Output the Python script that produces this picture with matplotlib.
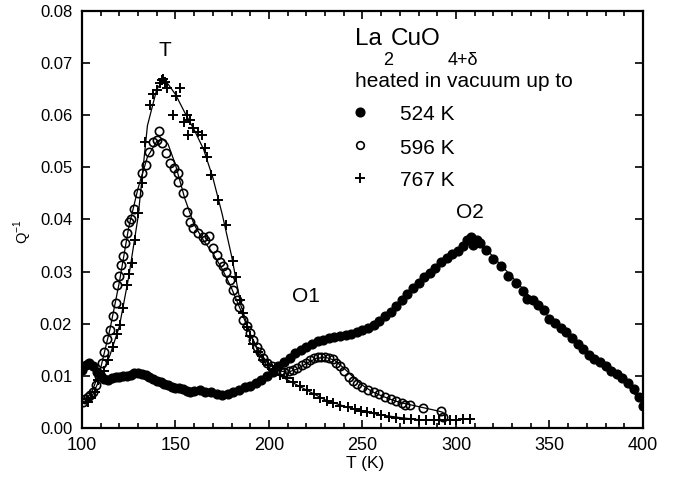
import numpy as np
import matplotlib
matplotlib.use('Agg')
import matplotlib.pyplot as plt
from matplotlib.ticker import MultipleLocator, FormatStrFormatter

plt.rcParams['font.family'] = ['Liberation Sans', 'DejaVu Sans']

# 524 K (filled circles)
t_524 = [100, 102, 104, 106, 108, 110, 112, 114, 116, 118, 120, 122, 124, 126, 128, 130, 132, 134, 136, 138,
         140, 142, 144, 146, 148, 150, 152, 154, 156, 158, 160, 163, 166, 169, 172, 175, 178, 181, 184, 187,
         190, 193, 196, 199, 202, 205, 208, 211, 214, 217, 220, 223, 226, 229, 232, 235, 238, 241, 244, 247,
         250, 253, 256, 259, 262, 265, 268, 271, 274, 277, 280, 283, 286, 289, 292, 295, 298, 301, 304, 306,
         308, 309, 311, 313, 316, 320, 324, 328, 332, 336, 338, 341, 344, 347, 350, 353, 356, 359, 362, 365,
         368, 371, 374, 377, 380, 383, 386, 389, 392, 395, 398, 400]
q_524 = [0.0111, 0.0120, 0.0124, 0.0118, 0.0108, 0.0100, 0.0094, 0.0093, 0.0096, 0.0097, 0.0098, 0.0099,
         0.0100, 0.0102, 0.0105, 0.0106, 0.0104, 0.0101, 0.0098, 0.0094, 0.0090, 0.0088, 0.0085, 0.0082,
         0.0078, 0.0077, 0.0076, 0.0074, 0.0071, 0.0070, 0.0071, 0.0072, 0.0070, 0.0069, 0.0066, 0.0064,
         0.0066, 0.0070, 0.0073, 0.0078, 0.0081, 0.0086, 0.0092, 0.0100, 0.0108, 0.0118, 0.0127, 0.0135,
         0.0143, 0.0150, 0.0156, 0.0162, 0.0166, 0.0169, 0.0172, 0.0174, 0.0176, 0.0178, 0.0181, 0.0184,
         0.0188, 0.0192, 0.0197, 0.0205, 0.0214, 0.0222, 0.0234, 0.0246, 0.0258, 0.0268, 0.0278, 0.0289,
         0.0298, 0.0306, 0.0318, 0.0326, 0.0334, 0.0340, 0.0350, 0.0360, 0.0366, 0.0352, 0.0360, 0.0354,
         0.0342, 0.0325, 0.0310, 0.0292, 0.0278, 0.0262, 0.0248, 0.0246, 0.0236, 0.0226, 0.0210, 0.0201,
         0.0192, 0.0184, 0.0172, 0.0162, 0.0152, 0.0140, 0.0132, 0.0126, 0.0118, 0.0110, 0.0104, 0.0096,
         0.0086, 0.0074, 0.0060, 0.0042]

# 596 K (open circles)
t_596 = [100.5, 101.5, 103, 104.5, 106, 107.5, 109, 110.5, 112, 113.5, 115, 116.5, 118, 118.5, 120, 121, 122,
         123, 124, 125, 126, 128, 130, 132, 134, 136, 138, 140, 141, 143, 145, 147, 149, 151.5, 151.5, 154,
         156, 158, 159.5, 162, 164.5, 166, 168, 170, 172, 174, 175.6, 177, 179, 181, 182.7, 184, 186.3, 188,
         189.8, 191.5, 193.4, 195, 197, 199, 201.4, 204, 206, 208, 210.5, 213, 215, 217.5, 220, 222, 224,
         226, 228, 230, 232, 234, 236, 238, 240, 243, 245, 247, 250, 253, 256, 259, 262, 265, 268, 271, 273,
         275.5, 282.5, 292, 293]
q_596 = [0.0050, 0.0056, 0.0060, 0.0064, 0.0070, 0.0082, 0.0100, 0.0125, 0.0146, 0.0170, 0.0188, 0.0215,
         0.0240, 0.0274, 0.0292, 0.0312, 0.0330, 0.0354, 0.0375, 0.0396, 0.0400, 0.0420, 0.0450, 0.0490,
         0.0505, 0.0530, 0.0549, 0.0553, 0.0570, 0.0547, 0.0528, 0.0508, 0.0498, 0.0489, 0.0472, 0.0450,
         0.0415, 0.0395, 0.0383, 0.0375, 0.0367, 0.0360, 0.0368, 0.0345, 0.0332, 0.0318, 0.0310, 0.0300,
         0.0284, 0.0265, 0.0246, 0.0232, 0.0207, 0.0195, 0.0182, 0.0168, 0.0156, 0.0145, 0.0134, 0.0125,
         0.0118, 0.0112, 0.0109, 0.0108, 0.0109, 0.0111, 0.0115, 0.0120, 0.0124, 0.0130, 0.0134, 0.0136,
         0.0137, 0.0137, 0.0135, 0.0132, 0.0125, 0.0118, 0.0110, 0.0098, 0.0090, 0.0085, 0.0078, 0.0073,
         0.0069, 0.0065, 0.0060, 0.0055, 0.0052, 0.0048, 0.0045, 0.0044, 0.0038, 0.0032, 0.0022]

# 767 K (plus)
t_767 = [103, 105, 107, 108.7, 110.5, 112, 114, 116.7, 118.5, 120.3, 122, 123.9, 125, 126.6, 128.3, 130.1,
         132, 133.7, 136.4, 138, 140, 141.5, 142.6, 143.5, 144.4, 145.3, 148.8, 150.3, 152.4, 154.3, 156,
         156.5, 158, 159.5, 162, 164, 165.8, 166.7, 169, 172.9, 177, 180.9, 182.5, 184.5, 186, 188, 190,
         191.6, 194, 197, 199.5, 202.3, 206, 209.5, 213, 216.6, 220.2, 224, 227.5, 230.9, 234.4, 238, 242,
         246, 249, 252.2, 256, 260, 264, 268, 272, 276, 280, 284, 288, 291, 294, 297, 300, 304, 307.5]
q_767 = [0.0050, 0.0058, 0.0070, 0.0092, 0.0100, 0.0110, 0.0130, 0.0156, 0.0180, 0.0198, 0.0230, 0.0274,
         0.0295, 0.0316, 0.0360, 0.0412, 0.0470, 0.0549, 0.0620, 0.0640, 0.0648, 0.0662, 0.0668, 0.0670,
         0.0664, 0.0652, 0.0600, 0.0637, 0.0652, 0.0588, 0.0600, 0.0562, 0.0590, 0.0575, 0.0568, 0.0562,
         0.0537, 0.0520, 0.0485, 0.0437, 0.0390, 0.0320, 0.0290, 0.0246, 0.0220, 0.0194, 0.0176, 0.0162,
         0.0145, 0.0130, 0.0120, 0.0111, 0.0102, 0.0095, 0.0088, 0.0080, 0.0073, 0.0066, 0.0058, 0.0052,
         0.0047, 0.0043, 0.0040, 0.0036, 0.0033, 0.0031, 0.0028, 0.0025, 0.0022, 0.0020, 0.0018, 0.0017,
         0.0016, 0.0015, 0.0015, 0.0015, 0.0016, 0.0016, 0.0016, 0.0017, 0.0017]

# fitted curves
tf_524 = [100, 105, 110, 115, 120, 125, 130, 135, 140, 145, 150, 155, 160, 165, 170, 175, 180, 185, 190, 195,
          200, 205, 210, 215, 220, 225, 230, 235, 240, 245, 250, 255, 260, 265, 270, 275, 280, 285, 290, 295,
          300, 305, 310, 315, 320, 330, 340, 350, 360, 370, 380, 390, 400]
qf_524 = [0.0112, 0.0118, 0.0102, 0.0095, 0.0098, 0.0101, 0.0104, 0.0100, 0.0091, 0.0084, 0.0078, 0.0074,
          0.0071, 0.0070, 0.0068, 0.0066, 0.0068, 0.0074, 0.0082, 0.0093, 0.0105, 0.0118, 0.0132, 0.0145,
          0.0155, 0.0163, 0.0169, 0.0173, 0.0177, 0.0181, 0.0186, 0.0193, 0.0205, 0.0220, 0.0238, 0.0258,
          0.0277, 0.0295, 0.0311, 0.0326, 0.0340, 0.0352, 0.0358, 0.0348, 0.0328, 0.0290, 0.0250, 0.0212,
          0.0178, 0.0144, 0.0116, 0.0090, 0.0045]

tf_596 = [100, 105, 110, 115, 120, 125, 130, 135, 140, 143, 146, 150, 155, 160, 165, 170, 175, 180, 185, 190,
          195, 200, 205, 210, 215, 220, 225, 230, 235, 240, 245, 250, 255, 260, 265, 270, 275, 280, 285, 290,
          293]
qf_596 = [0.0052, 0.0066, 0.0115, 0.0190, 0.0280, 0.0385, 0.0460, 0.0520, 0.0550, 0.0555, 0.0545, 0.0505,
          0.0440, 0.0390, 0.0360, 0.0335, 0.0305, 0.0268, 0.0225, 0.0180, 0.0145, 0.0122, 0.0110, 0.0107,
          0.0113, 0.0124, 0.0133, 0.0136, 0.0130, 0.0115, 0.0098, 0.0082, 0.0070, 0.0062, 0.0055, 0.0049,
          0.0045, 0.0041, 0.0037, 0.0033, 0.0030]

tf_767 = [102, 105, 110, 115, 120, 125, 130, 135, 140, 143, 146, 150, 155, 160, 165, 170, 175, 180, 185, 190,
          195, 200, 205, 210, 220, 230, 240, 250, 260, 270, 280, 290, 300, 308]
qf_767 = [0.0048, 0.0058, 0.0098, 0.0140, 0.0195, 0.0290, 0.0405, 0.0580, 0.0650, 0.0665, 0.0660, 0.0640,
          0.0605, 0.0572, 0.0535, 0.0480, 0.0410, 0.0330, 0.0235, 0.0180, 0.0140, 0.0115, 0.0102, 0.0092,
          0.0073, 0.0054, 0.0042, 0.0032, 0.0025, 0.0020, 0.0016, 0.0015, 0.0016, 0.0017]

peak_labels = ['T', 'O1', 'O2']
peak_x = [144.2, 219.5, 307.5]
peak_y = [0.0724, 0.0252, 0.0413]

fig = plt.figure(figsize=(6.73, 4.83), dpi=100)
ax = fig.add_axes([0.1218, 0.1139, 0.8336, 0.8633])

ax.plot(tf_524, qf_524, '-', color='black', lw=0.9)
ax.plot(tf_596, qf_596, '-', color='black', lw=0.9)
ax.plot(tf_767, qf_767, '-', color='black', lw=0.9)
ax.plot(t_524, q_524, 'o', color='black', ms=6.3, mec='black')
ax.plot(t_596, q_596, 'o', mfc='none', mec='black', ms=6, mew=1.2)
ax.plot(t_767, q_767, '+', color='black', ms=7.5, mew=1.4)

for lab, x, y in zip(peak_labels, peak_x, peak_y):
    ax.text(x, y, lab, ha='center', va='center', fontsize=15)

ax.set_xlim(100, 400)
ax.set_ylim(0, 0.08)
ax.xaxis.set_major_locator(MultipleLocator(50))
ax.xaxis.set_minor_locator(MultipleLocator(10))
ax.yaxis.set_major_locator(MultipleLocator(0.01))
ax.yaxis.set_major_formatter(FormatStrFormatter('%.2f'))
ax.tick_params(which='both', direction='in', top=True, right=True, width=1.2)
ax.tick_params(which='major', length=6, labelsize=12, pad=7)
ax.tick_params(axis='x', which='major', labelsize=13, pad=6.5)
ax.tick_params(which='minor', length=3.5)
ax.tick_params(axis='y', which='minor', left=False, right=False)
for s in ax.spines.values():
    s.set_linewidth(1.6)

ax.set_xlabel('T (K)', fontsize=12.5, va='top')
ax.xaxis.set_label_coords(0.5045, -0.066)
ax.set_ylabel('Q$^{\\mathregular{-1}}$', fontsize=10.5)
ax.yaxis.set_label_coords(-0.085, 0.47)

# legend block
def ft(px, py, s, **kw):
    fig.text(px / 673, 1 - py / 483, s, **kw)

ft(355, 45, 'La', fontsize=17.5)
ft(383, 65, '2', fontsize=13)
ft(391, 45, 'CuO', fontsize=17.5)
ft(448, 65, '4+δ', fontsize=13)
ft(355, 87, 'heated in vacuum up to', fontsize=15)
leg_marks = [dict(marker='o', color='black', ms=6.3), dict(marker='o', mfc='none', mec='black', ms=5.5, mew=1.2),
             dict(marker='+', color='black', ms=7.5, mew=1.4)]
leg_labels = ['524 K', '596 K', '767 K']
for i, (mk, lab) in enumerate(zip(leg_marks, leg_labels)):
    yy = 112 + 33 * i
    fig.lines.append(plt.Line2D([360 / 673], [1 - yy / 483], transform=fig.transFigure, linestyle='none', **mk))
    ft(400, yy + 8.5, lab, fontsize=15)

fig.savefig('out.png', dpi=100)
